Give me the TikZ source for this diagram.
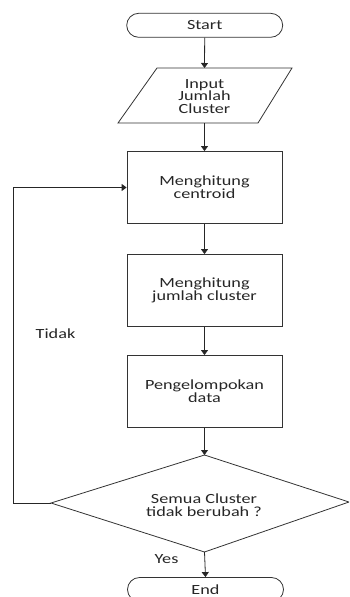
\documentclass[tikz,border=0pt]{standalone}
\usepackage{fontspec}
\setmainfont{Carlito}[FakeStretch=1.3]
\usetikzlibrary{arrows.meta}
\begin{document}
\begin{tikzpicture}[x=1pt,y=-1pt,
  line width=0.8pt,
  every node/.style={text=black!85},
  txt/.style={font=\fontsize{14}{11}\selectfont, align=center},
  terminal/.style={draw=black!80, rounded corners=12pt, minimum width=156pt, minimum height=24pt, inner sep=0pt, txt},
  process/.style={draw=black!80, minimum width=155pt, minimum height=72pt, inner sep=0pt, txt},
  conn/.style={draw=black!85, -{Triangle[width=7pt,length=5pt]}},
  plain/.style={draw=black!80}
]
\useasboundingbox (0,0) rectangle (349,597);
\clip (0,0) rectangle (349,597);
% terminals
\node[terminal] (start) at (204.7,25.3) {Start};
% input parallelogram
\coordinate (pTL) at (157,68);
\coordinate (pTR) at (292,68);
\coordinate (pBR) at (258,123);
\coordinate (pBL) at (118,123);
\coordinate (pT) at (204.5,68);
\coordinate (pB) at (204.5,123);
\draw[plain] (pTL) -- (pTR) -- (pBR) -- (pBL) -- cycle;
\node[txt, font=\fontsize{14}{12.7}\selectfont] (inp) at (204.5,96.5) {Input\\Jumlah\\Cluster};
% processes
\node[process] (b1) at (204.5,187.5) {Menghitung\\centroid};
\node[process] (b2) at (204.5,290.5) {Menghitung\\jumlah cluster};
\node[process] (b3) at (204.5,391.5) {Pengelompokan\\data};
% decision
\coordinate (dT) at (204.5,455);
\coordinate (dR) at (349,502);
\coordinate (dB) at (204.5,552);
\coordinate (dL) at (51,503);
\draw[plain] (dT) -- (dR) -- (dB) -- (dL) -- cycle;
\node[txt, font=\fontsize{14}{13}\selectfont] (dec) at (204,505) {Semua Cluster\\tidak berubah ?};
\node[terminal] (end) at (205.5,589.5) {End};
% connectors
\draw[conn] (start.south) -- (pT);
\draw[conn] (pB) -- (b1.north);
\draw[conn] (b1.south) -- (b2.north);
\draw[conn] (b2.south) -- (b3.north);
\draw[conn] (b3.south) -- (dT);
\draw[conn] (dB) -- (end.north);
\coordinate (loopA) at (13,503);
\draw[conn] (dL) -- (loopA) |- (b1.west);
% labels
\node[txt] (tidak) at (55.5,334) {Tidak};
\node[txt] (yes) at (166.5,559) {Yes};
\end{tikzpicture}
\end{document}
